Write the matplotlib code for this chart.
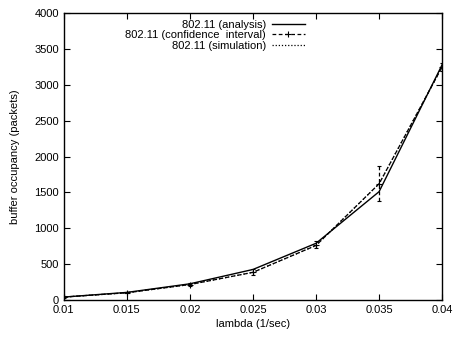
import numpy as np
import matplotlib
matplotlib.use("Agg")
from matplotlib import pyplot as plt
from matplotlib.lines import Line2D

# valores
lam = [0.01, 0.015, 0.02, 0.025, 0.03, 0.035, 0.04]
analysis = [40, 105, 225, 425, 790, 1510, 3280]
simulation = [40, 100, 215, 385, 760, 1620, 3250]
ci_low = [30, 90, 200, 350, 730, 1380, 3200]
ci_high = [50, 115, 235, 430, 820, 1870, 3300]

xticks = [0.01, 0.015, 0.02, 0.025, 0.03, 0.035, 0.04]
xlabels = ["0.01", "0.015", "0.02", "0.025", "0.03", "0.035", "0.04"]
yticks = [0, 500, 1000, 1500, 2000, 2500, 3000, 3500, 4000]

plt.rcParams['font.family'] = ['Liberation Sans', 'DejaVu Sans']
fs = 8

fig = plt.figure(figsize=(4.53, 3.37), dpi=100)
ax = fig.add_axes([0.141, 0.11, 0.835, 0.851])

sim = np.array(simulation)
err = [sim - np.array(ci_low), np.array(ci_high) - sim]

h1, = ax.plot(lam, analysis, color='black', lw=1.0, label="802.11 (analysis)")
eb = ax.errorbar(lam, simulation, yerr=err, color='black', lw=0.9, ls=(0, (3, 2)),
                 marker='+', ms=4, mew=0.8, capsize=1.5, elinewidth=0.9)
for bl in eb[2]:
    bl.set_linestyle((0, (3, 2)))
h3, = ax.plot(lam, simulation, color='black', lw=0.9, ls=(0, (1, 1.5)),
              label="802.11 (simulation)")
# handle da legenda no estilo gnuplot
h2 = Line2D([], [], color='black', lw=0.9, ls=(0, (3, 2)), marker='+', ms=4, mew=0.8)

ax.set_xlim(0.01, 0.04)
ax.set_ylim(0, 4000)
ax.set_xticks(xticks)
ax.set_xticklabels(xlabels)
ax.set_yticks(yticks)
ax.tick_params(direction='in', top=True, right=True, labelsize=fs, length=4, width=0.8)
for s in ax.spines.values():
    s.set_linewidth(1.0)

ax.set_xlabel("lambda (1/sec)", fontsize=fs, labelpad=3)
ax.set_ylabel("buffer occupancy (packets)", fontsize=fs, labelpad=10)

leg = ax.legend([h1, h2, h3],
                ["802.11 (analysis)", "802.11 (confidence  interval)", "802.11 (simulation)"],
                loc='upper right', bbox_to_anchor=(0.655, 1.0), frameon=False,
                markerfirst=False, fontsize=fs, handlelength=3.0,
                labelspacing=0.05, handletextpad=0.5, borderaxespad=0.2)

fig.savefig("out.png", dpi=100)
